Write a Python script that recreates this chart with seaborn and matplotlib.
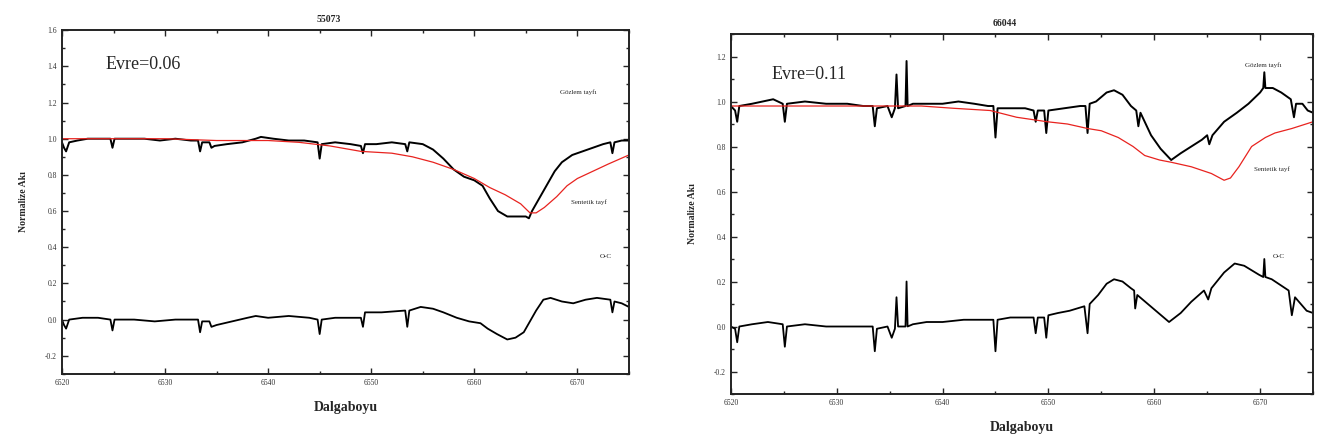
import numpy as np
import pandas as pd
import matplotlib
matplotlib.use("Agg")
import matplotlib.pyplot as plt
import seaborn as sns
from matplotlib.ticker import MultipleLocator

# ---- star 55073, phase 0.06 ----
wl_obs_a = [6520.0, 6520.2, 6520.4, 6520.7, 6521.5, 6522.5, 6523.5, 6524.7, 6524.9, 6525.1,
            6526.5, 6528.0, 6529.5, 6531.0, 6532.5, 6533.2, 6533.4, 6533.6, 6534.3, 6534.5,
            6534.8, 6536.0, 6537.5, 6538.8, 6539.3, 6540.5, 6542.0, 6543.5, 6544.8, 6545.0,
            6545.2, 6546.5, 6548.0, 6549.0, 6549.2, 6549.4, 6550.5, 6552.0, 6553.3, 6553.5,
            6553.7, 6555.0, 6556.0, 6557.0, 6558.0, 6559.0, 6560.0, 6560.8, 6561.5, 6562.3,
            6563.2, 6564.0, 6565.0, 6565.3, 6565.6, 6566.2, 6567.0, 6567.8, 6568.5, 6569.5,
            6570.5, 6571.5, 6572.5, 6573.2, 6573.4, 6573.6, 6574.3, 6575.0]
flux_obs_a = [0.98, 0.95, 0.93, 0.98, 0.99, 1.00, 1.00, 1.00, 0.95, 1.00,
              1.00, 1.00, 0.99, 1.00, 0.99, 0.99, 0.93, 0.98, 0.98, 0.95,
              0.96, 0.97, 0.98, 1.00, 1.01, 1.00, 0.99, 0.99, 0.98, 0.89,
              0.97, 0.98, 0.97, 0.96, 0.92, 0.97, 0.97, 0.98, 0.97, 0.93,
              0.98, 0.97, 0.94, 0.89, 0.83, 0.79, 0.77, 0.74, 0.67, 0.60,
              0.57, 0.57, 0.57, 0.56, 0.60, 0.66, 0.74, 0.82, 0.87, 0.91,
              0.93, 0.95, 0.97, 0.98, 0.92, 0.98, 0.99, 0.99]

wl_syn_a = [6520, 6525, 6530, 6535, 6540, 6543, 6546, 6549, 6552, 6554, 6556, 6558, 6560,
            6561.5, 6563, 6564.5, 6565.4, 6566, 6566.8, 6568, 6569, 6570, 6571.5, 6573, 6575]
flux_syn_a = [1.00, 1.00, 1.00, 0.99, 0.99, 0.98, 0.96, 0.93, 0.92, 0.90, 0.87, 0.83, 0.78,
              0.73, 0.69, 0.64, 0.59, 0.59, 0.62, 0.68, 0.74, 0.78, 0.82, 0.86, 0.91]

wl_oc_a = [6520.0, 6520.2, 6520.4, 6520.7, 6522.0, 6523.5, 6524.7, 6524.9, 6525.1, 6527.0,
           6529.0, 6531.0, 6533.2, 6533.4, 6533.6, 6534.3, 6534.5, 6535.0, 6536.5, 6538.0,
           6538.8, 6540.0, 6542.0, 6544.0, 6544.8, 6545.0, 6545.2, 6546.5, 6548.0, 6549.0,
           6549.2, 6549.4, 6551.0, 6553.3, 6553.5, 6553.7, 6554.8, 6556.0, 6557.0, 6558.3,
           6559.5, 6560.6, 6561.3, 6562.2, 6563.2, 6564.0, 6564.8, 6565.4, 6566.0, 6566.7,
           6567.4, 6568.5, 6569.6, 6570.8, 6571.9, 6573.2, 6573.4, 6573.6, 6574.3, 6575.0]
oc_a = [0.00, -0.03, -0.05, 0.00, 0.01, 0.01, 0.00, -0.06, 0.00, 0.00,
        -0.01, 0.00, 0.00, -0.07, -0.01, -0.01, -0.04, -0.03, -0.01, 0.01,
        0.02, 0.01, 0.02, 0.01, 0.00, -0.08, 0.00, 0.01, 0.01, 0.01,
        -0.04, 0.04, 0.04, 0.05, -0.04, 0.05, 0.07, 0.06, 0.04, 0.01,
        -0.01, -0.02, -0.05, -0.08, -0.11, -0.10, -0.07, -0.01, 0.05, 0.11,
        0.12, 0.10, 0.09, 0.11, 0.12, 0.11, 0.04, 0.10, 0.09, 0.07]

# ---- star 66044, phase 0.11 ----
wl_obs_b = [6520.0, 6520.4, 6520.6, 6520.8, 6522.0, 6523.0, 6524.0, 6524.9, 6525.1, 6525.3,
            6527.0, 6529.0, 6531.0, 6532.5, 6533.4, 6533.6, 6533.8, 6534.8, 6535.2, 6535.5,
            6535.65, 6535.8, 6536.5, 6536.6, 6536.7, 6537.2, 6538.5, 6540.0, 6541.5, 6543.0,
            6544.3, 6544.8, 6545.0, 6545.2, 6546.5, 6547.8, 6548.6, 6548.8, 6549.0, 6549.6,
            6549.8, 6550.0, 6551.5, 6553.0, 6553.5, 6553.7, 6553.9, 6554.5, 6555.5, 6556.2,
            6557.0, 6557.8, 6558.3, 6558.5, 6558.7, 6559.7, 6560.6, 6561.6, 6562.5, 6563.5,
            6564.5, 6565.0, 6565.2, 6565.5, 6566.6, 6567.8, 6568.9, 6570.0, 6570.3, 6570.4,
            6570.5, 6571.2, 6572.0, 6572.9, 6573.2, 6573.4, 6574.0, 6574.5, 6575.0]
flux_obs_b = [0.98, 0.96, 0.91, 0.98, 0.99, 1.00, 1.01, 0.99, 0.91, 0.99,
              1.00, 0.99, 0.99, 0.98, 0.98, 0.89, 0.97, 0.98, 0.93, 0.97,
              1.12, 0.97, 0.98, 1.18, 0.98, 0.99, 0.99, 0.99, 1.00, 0.99,
              0.98, 0.98, 0.84, 0.97, 0.97, 0.97, 0.96, 0.91, 0.96, 0.96,
              0.86, 0.96, 0.97, 0.98, 0.98, 0.86, 0.99, 1.00, 1.04, 1.05,
              1.03, 0.98, 0.96, 0.89, 0.95, 0.85, 0.79, 0.74, 0.77, 0.80,
              0.83, 0.85, 0.81, 0.85, 0.91, 0.95, 0.99, 1.04, 1.06, 1.13,
              1.06, 1.06, 1.04, 1.01, 0.93, 0.99, 0.99, 0.96, 0.95]

wl_syn_b = [6520, 6525, 6530, 6535, 6538, 6541, 6544.5, 6547, 6549.9, 6551.8, 6553.7, 6555,
            6556.6, 6558, 6559.1, 6560.5, 6561.6, 6563.5, 6565.4, 6566.6, 6567.2, 6568,
            6569.2, 6570.5, 6571.4, 6573, 6575]
flux_syn_b = [0.98, 0.98, 0.98, 0.98, 0.98, 0.97, 0.96, 0.93, 0.91, 0.90, 0.88, 0.87,
              0.84, 0.80, 0.76, 0.74, 0.73, 0.71, 0.68, 0.65, 0.66, 0.71,
              0.80, 0.84, 0.86, 0.88, 0.91]

wl_oc_b = [6520.0, 6520.4, 6520.6, 6520.8, 6522.0, 6523.5, 6524.9, 6525.1, 6525.3, 6527.0,
           6529.0, 6531.0, 6533.4, 6533.6, 6533.8, 6534.8, 6535.2, 6535.5, 6535.65, 6535.8,
           6536.5, 6536.6, 6536.7, 6537.2, 6538.5, 6540.0, 6542.0, 6544.3, 6544.8, 6545.0,
           6545.2, 6546.4, 6547.8, 6548.6, 6548.8, 6549.0, 6549.6, 6549.8, 6550.0, 6550.9,
           6552.0, 6553.4, 6553.7, 6553.9, 6554.7, 6555.5, 6556.2, 6557.0, 6557.8, 6558.1,
           6558.2, 6558.4, 6559.4, 6560.4, 6561.4, 6562.5, 6563.5, 6564.7, 6565.1, 6565.4,
           6566.6, 6567.6, 6568.5, 6569.9, 6570.3, 6570.4, 6570.5, 6571.1, 6572.7, 6573.0,
           6573.3, 6574.4, 6575.0]
oc_b = [0.00, -0.01, -0.07, 0.00, 0.01, 0.02, 0.01, -0.09, 0.00, 0.01,
        0.00, 0.00, 0.00, -0.11, -0.01, 0.00, -0.05, -0.01, 0.13, 0.00,
        0.00, 0.20, 0.00, 0.01, 0.02, 0.02, 0.03, 0.03, 0.03, -0.11,
        0.03, 0.04, 0.04, 0.04, -0.03, 0.04, 0.04, -0.05, 0.05, 0.06,
        0.07, 0.09, -0.03, 0.10, 0.14, 0.19, 0.21, 0.20, 0.17, 0.16,
        0.08, 0.14, 0.10, 0.06, 0.02, 0.06, 0.11, 0.16, 0.12, 0.17,
        0.24, 0.28, 0.27, 0.23, 0.22, 0.30, 0.22, 0.21, 0.16, 0.05,
        0.13, 0.07, 0.06]

serif = "Liberation Serif"


def draw_panel(ax, title, phase, obs, syn, oc, ylim, yticks, phase_xy, lab_obs, lab_syn, lab_oc):
    sns.lineplot(x=obs[0], y=obs[1], ax=ax, color="black", lw=1.4)
    sns.lineplot(x=syn[0], y=syn[1], ax=ax, color="#e8231f", lw=0.9)
    sns.lineplot(x=oc[0], y=oc[1], ax=ax, color="black", lw=1.3)

    ax.set_xlim(6520, 6575)
    ax.set_ylim(*ylim)
    ax.set_xticks([6520, 6530, 6540, 6550, 6560, 6570])
    ax.set_yticks(yticks)
    ax.set_yticklabels([f"{t:.1f}" for t in yticks])
    ax.xaxis.set_minor_locator(MultipleLocator(5))
    ax.yaxis.set_minor_locator(MultipleLocator(0.1))
    ax.tick_params(which="both", direction="in", top=True, right=True,
                   labelsize=5.5, labelcolor="#333333", width=1.0)
    ax.tick_params(which="major", length=4)
    ax.tick_params(which="minor", length=2.5)
    for s in ax.spines.values():
        s.set_linewidth(1.4)
        s.set_color("#222222")

    ax.set_title(title, fontsize=7, fontweight="bold", family=serif, x=0.47, pad=6)
    ax.set_xlabel("Dalgaboyu", fontsize=10, fontweight="bold", family=serif, labelpad=10)
    ax.set_ylabel("Normalize Akı", fontsize=7, fontweight="bold", family=serif, labelpad=12)

    ax.text(phase_xy[0], phase_xy[1], phase, fontsize=13, family=serif, va="center")
    ax.text(lab_obs[0], lab_obs[1], "Gözlem tayfı", fontsize=5, family=serif, va="center")
    ax.text(lab_syn[0], lab_syn[1], "Sentetik tayf", fontsize=5, family=serif, va="center")
    ax.text(lab_oc[0], lab_oc[1], "O-C", fontsize=5, family=serif, va="center")


sns.set_style("ticks")
plt.rcParams["font.family"] = [serif, "DejaVu Serif"]

fig = plt.figure(figsize=(13.24, 4.44), dpi=100)
ax1 = fig.add_axes([0.0468, 0.158, 0.4282, 0.774])
ax2 = fig.add_axes([0.552, 0.1126, 0.4397, 0.8108])

draw_panel(ax1, "55073", "Evre=0.06",
           (wl_obs_a, flux_obs_a), (wl_syn_a, flux_syn_a), (wl_oc_a, oc_a),
           (-0.3, 1.6), [-0.2, 0.0, 0.2, 0.4, 0.6, 0.8, 1.0, 1.2, 1.4, 1.6],
           (6524.2, 1.41), (6568.3, 1.26), (6569.4, 0.65), (6572.2, 0.35))
draw_panel(ax2, "66044", "Evre=0.11",
           (wl_obs_b, flux_obs_b), (wl_syn_b, flux_syn_b), (wl_oc_b, oc_b),
           (-0.3, 1.3), [-0.2, 0.0, 0.2, 0.4, 0.6, 0.8, 1.0, 1.2],
           (6523.8, 1.12), (6568.6, 1.16), (6569.4, 0.70), (6571.2, 0.31))

fig.savefig("out.png", dpi=100)
